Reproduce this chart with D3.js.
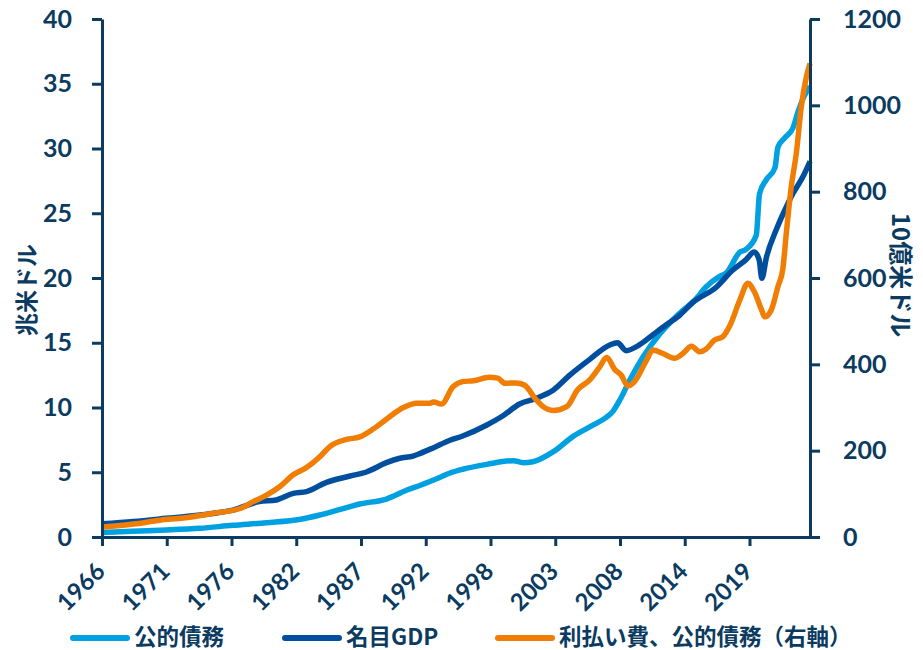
<!DOCTYPE html>
<html><head><meta charset="utf-8">
<script src="https://cdn.jsdelivr.net/npm/d3@7/dist/d3.min.js"></script>
<style>
html,body{margin:0;padding:0;background:#fff;}
svg{display:block;font-family:"Noto Sans CJK JP","Noto Sans",sans-serif;font-weight:700;}
</style></head>
<body>
<svg id="chart" width="923" height="650"></svg>
<script>
// ---- data ----
const xTickValues = [1966, 1971.35, 1976.7, 1982.05, 1987.4, 1992.75, 1998.1, 2003.45, 2008.8, 2014.15, 2019.5];
const xTickLabels = ["1966","1971","1976","1982","1987","1992","1998","2003","2008","2014","2019"];
const leftTicks = [0,5,10,15,20,25,30,35,40];
const rightTicks = [0,200,400,600,800,1000,1200];
const seriesNames = ["公的債務","名目GDP","利払い費、公的債務（右軸）"];
const leftTitle = "兆米ドル";
const rightTitle = "10億米ドル";

// 公的債務 (trillion USD, left axis)
const publicDebt = [
 [1966.0,0.35],[1968.5,0.45],[1971.3,0.54],[1974.1,0.67],[1976.8,0.9],[1979.6,1.1],[1982.4,1.37],
 [1984.0,1.7],[1985.7,2.14],[1987.3,2.55],[1989.5,2.93],[1991.2,3.63],[1992.3,4.0],[1993.9,4.6],
 [1994.7,4.92],[1995.8,5.23],[1997.8,5.61],[2000.0,5.89],[2000.8,5.74],[2001.6,5.81],[2003.3,6.59],
 [2004.9,7.75],[2006.6,8.65],[2007.6,9.2],[2008.2,9.68],[2008.8,10.6],[2009.6,12.1],[2010.7,13.9],
 [2012.1,15.7],[2013.2,16.8],[2014.0,17.5],[2015.0,18.3],[2015.9,19.3],[2017.0,20.1],[2017.6,20.4],
 [2018.7,22.0],[2019.2,22.2],[2020.06,23.3],[2020.33,26.5],[2020.9,27.6],[2021.6,28.5],[2021.85,30.1],
 [2022.4,30.8],[2023.1,31.6],[2023.5,32.8],[2024.05,34.1],[2024.5,34.8]
];
// 名目GDP (trillion USD, left axis)
const nominalGDP = [
 [1966.0,1.02],[1968.6,1.2],[1971.3,1.44],[1974.1,1.7],[1976.8,2.08],[1979.0,2.73],[1980.4,2.86],
 [1981.8,3.37],[1982.9,3.5],[1984.5,4.2],[1986.5,4.71],[1987.9,5.04],[1989.5,5.74],[1990.6,6.08],
 [1991.7,6.25],[1992.3,6.46],[1993.4,6.9],[1994.7,7.45],[1995.8,7.8],[1997.8,8.65],[1999.1,9.34],
 [2000.5,10.27],[2001.9,10.71],[2003.3,11.35],[2004.65,12.5],[2006.3,13.72],[2007.95,14.83],
 [2008.6,15.0],[2009.3,14.39],[2010.4,14.83],[2011.5,15.6],[2012.6,16.37],[2013.7,17.1],[2014.8,18.1],
 [2016.8,19.33],[2018.1,20.6],[2019.2,21.4],[2019.9,22.0],[2020.3,21.4],[2020.52,19.98],[2020.9,21.6],
 [2021.7,23.7],[2022.3,25.0],[2023.1,26.54],[2023.9,27.8],[2024.5,29.0]
];
// 利払い費、公的債務 (billion USD, right axis)
const interestPaid = [
 [1966.0,23],[1968.6,30],[1970.8,39],[1972.7,44],[1975.2,55],[1977.4,66],[1978.5,82],[1979.6,97],
 [1980.7,117],[1981.8,144],[1982.9,161],[1984.0,186],[1984.8,209],[1986.2,226],[1987.3,232],
 [1988.4,250],[1989.5,273],[1990.9,300],[1992.0,310],[1993.1,310],[1993.4,313],[1994.05,308],
 [1995.0,348],[1995.8,360],[1996.7,362],[1998.0,370],[1998.7,368],[1999.3,356],[2000.2,357],
 [2000.9,352],[2001.9,317],[2002.4,303],[2003.3,293],[2004.4,302],[2005.3,341],[2006.3,364],
 [2007.1,393],[2007.7,416],[2008.4,387],[2008.9,375],[2009.46,350],[2010.0,360],[2011.0,410],
 [2011.5,433],[2012.35,425],[2013.3,414],[2014.0,425],[2014.7,442],[2015.4,429],[2015.9,435],
 [2016.6,456],[2017.3,464],[2017.9,491],[2018.7,549],[2019.37,588],[2019.9,568],[2020.5,526],
 [2020.75,510],[2021.3,526],[2021.85,580],[2022.26,622],[2022.54,703],[2022.95,811],[2023.37,889],
 [2023.78,997],[2024.2,1066],[2024.5,1097]
];

// ---- chart ----
const navy = "#0b3b60";
const colors = ["#00a0e1","#004f9f","#f07e05"];
const svg = d3.select("#chart");
const m = {left:102, right:810, top:19, bottom:537};

const x = d3.scaleLinear().domain([1966, 2024.5]).range([m.left, m.right]);
const yL = d3.scaleLinear().domain([0, 40]).range([m.bottom, m.top]);
const yR = d3.scaleLinear().domain([0, 1200]).range([m.bottom, m.top]);

// lines
const lineL = d3.line().x(d=>x(d[0])).y(d=>yL(d[1])).curve(d3.curveMonotoneX);
const lineR = d3.line().x(d=>x(d[0])).y(d=>yR(d[1])).curve(d3.curveMonotoneX);
const g = svg.append("g");
g.append("path").datum(publicDebt).attr("d", lineL).attr("fill","none")
 .attr("stroke",colors[0]).attr("stroke-width",5.5).attr("stroke-linejoin","round");
g.append("path").datum(nominalGDP).attr("d", lineL).attr("fill","none")
 .attr("stroke",colors[1]).attr("stroke-width",5.5).attr("stroke-linejoin","round");
g.append("path").datum(interestPaid).attr("d", lineR).attr("fill","none")
 .attr("stroke",colors[2]).attr("stroke-width",5.5).attr("stroke-linejoin","round");

const tickFont = 'Lato,"Noto Sans",sans-serif';
function styleAxis(sel, fs){
  sel.select(".domain").attr("stroke",navy).attr("stroke-width",3);
  sel.selectAll(".tick line").attr("stroke",navy).attr("stroke-width",3);
  sel.selectAll(".tick text").attr("fill",navy).style("font-size",fs+"px").style("font-weight","700")
     .style("font-family",tickFont);
}

// x axis
const xAxis = svg.append("g").attr("transform",`translate(0,${m.bottom})`)
 .call(d3.axisBottom(x).tickValues(xTickValues).tickFormat((d,i)=>xTickLabels[i]).tickSize(9).tickSizeOuter(0));
styleAxis(xAxis, 24);
xAxis.selectAll(".tick text").attr("text-anchor","end").attr("dy",null).attr("y",null)
 .attr("transform","translate(4,36) rotate(-45)");

// left axis
const leftAxis = svg.append("g").attr("transform",`translate(${m.left},0)`)
 .call(d3.axisLeft(yL).tickValues(leftTicks).tickSize(10).tickSizeOuter(0).tickPadding(20));
styleAxis(leftAxis, 25);

// right axis
const rightAxis = svg.append("g").attr("transform",`translate(${m.right},0)`)
 .call(d3.axisRight(yR).tickValues(rightTicks).tickFormat(d3.format("d")).tickSize(10).tickSizeOuter(0).tickPadding(23));
styleAxis(rightAxis, 25);

// axis titles
svg.append("text").attr("transform","translate(27,290) rotate(-90)").attr("text-anchor","middle")
 .attr("dy","0.35em").attr("fill",navy).style("font-size","23px").text(leftTitle);
svg.append("text").attr("transform","translate(900,275) rotate(90)").attr("text-anchor","middle")
 .attr("dy","0.35em").attr("fill",navy).style("font-size","24px").text(rightTitle);

// legend
const legendX = [73, 285, 498];
const leg = svg.append("g");
seriesNames.forEach((name,i)=>{
  leg.append("line").attr("x1",legendX[i]).attr("x2",legendX[i]+54).attr("y1",638).attr("y2",638)
    .attr("stroke",colors[i]).attr("stroke-width",6).attr("stroke-linecap","round");
  leg.append("text").attr("x",legendX[i]+61).attr("y",637).attr("dy","0.36em")
    .attr("fill",navy).style("font-size","22.5px").text(name);
});
</script>
</body></html>
